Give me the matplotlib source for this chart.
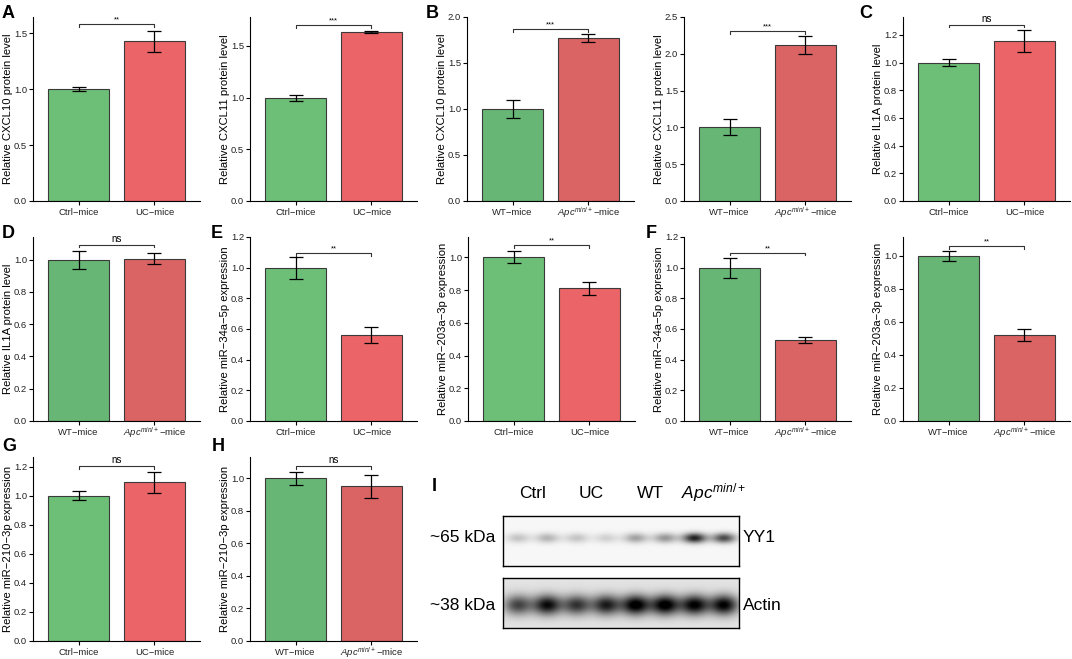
import numpy as np
import matplotlib.pyplot as plt
from matplotlib.ticker import FormatStrFormatter

plt.rcParams["font.family"] = ["Liberation Sans", "DejaVu Sans"]
plt.rcParams["mathtext.fontset"] = "custom"
plt.rcParams["mathtext.rm"] = "Liberation Sans"
plt.rcParams["mathtext.it"] = "Liberation Sans:italic"

# ---- data ----
ctrl_uc = ["Ctrl\u2212mice", "UC\u2212mice"]
wt_apc = ["WT\u2212mice", r"$\mathit{Apc}^{\mathit{min/+}}$" + "\u2212mice"]

cxcl10_uc = [1.00, 1.425]
cxcl10_uc_err = [0.016, 0.095]
cxcl11_uc = [1.00, 1.633]
cxcl11_uc_err = [0.028, 0.010]
cxcl10_apc = [1.00, 1.772]
cxcl10_apc_err = [0.100, 0.047]
cxcl11_apc = [1.00, 2.120]
cxcl11_apc_err = [0.110, 0.125]
il1a_uc = [1.00, 1.154]
il1a_uc_err = [0.026, 0.080]
il1a_apc = [1.00, 1.004]
il1a_apc_err = [0.056, 0.034]
mir34a_uc = [1.00, 0.559]
mir34a_uc_err = [0.072, 0.052]
mir203a_uc = [1.00, 0.811]
mir203a_uc_err = [0.037, 0.040]
mir34a_apc = [1.00, 0.526]
mir34a_apc_err = [0.065, 0.020]
mir203a_apc = [1.00, 0.521]
mir203a_apc_err = [0.032, 0.034]
mir210_uc = [1.00, 1.093]
mir210_uc_err = [0.032, 0.074]
mir210_apc = [1.00, 0.949]
mir210_apc_err = [0.040, 0.073]

# western blot band intensities (two sub-lanes per group)
blot_groups = ["Ctrl", "UC", "WT", r"$\mathit{Apc}^{\mathit{min/+}}$"]
yy1_bands = [[0.20, 0.26], [0.20, 0.15], [0.34, 0.38], [0.85, 0.68]]
actin_bands = [[0.62, 0.85], [0.68, 0.78], [0.95, 0.95], [0.90, 0.90]]

uc_cols = ["#6dbe77", "#eb6568"]
apc_cols = ["#68b675", "#da6464"]

W, H = 1072, 659
fig = plt.figure(figsize=(W / 100, H / 100), dpi=100)


def px_axes(left, top, width=167, height=184):
    return fig.add_axes([left / W, (H - top - height) / H, width / W, height / H])


def bar_panel(ax, labels, vals, errs, cols, ymax, ystep, ylabel, sig, yb):
    x = np.arange(len(vals))
    ax.bar(x, vals, width=0.8, color=cols, edgecolor="#3a3a3a", linewidth=0.8, zorder=2)
    ax.errorbar(x, vals, yerr=errs, fmt="none", ecolor="black", elinewidth=0.9,
                capsize=5, capthick=0.9, zorder=3)
    ax.set_xlim(-0.6, 1.6)
    ax.set_ylim(0, ymax)
    ax.set_yticks(np.arange(0, ymax + 1e-6, ystep))
    ax.yaxis.set_major_formatter(FormatStrFormatter("%.1f"))
    ax.set_xticks(x, labels)
    for s in ["top", "right"]:
        ax.spines[s].set_visible(False)
    for s in ["left", "bottom"]:
        ax.spines[s].set_linewidth(0.8)
    ax.tick_params(direction="out", length=3, width=0.8, labelsize=6.8,
                   labelcolor="#222222")
    ax.tick_params(axis="y", pad=1.2)
    ax.tick_params(axis="x", pad=7.4)
    for lab in ax.get_xticklabels():
        lab.set_verticalalignment("baseline")
    ax.set_ylabel(ylabel, fontsize=8.1)
    ax.yaxis.set_label_coords(-20 / 167, 0.5)
    tick = ymax * 0.015
    ax.plot([0, 0, 1, 1], [yb - tick, yb, yb, yb - tick], color="#333333", lw=0.8)
    if "*" in sig:
        ax.text(0.5, yb + ymax * 0.004, sig, ha="center", va="bottom", fontsize=5.5)
    else:
        ax.text(0.5, yb + ymax * 0.004, sig, ha="center", va="bottom", fontsize=7)


def letter(x, y, s):
    fig.text(x / W, 1 - y / H, s, fontsize=13, fontweight="bold", va="top", ha="left")


# row 1
bar_panel(px_axes(33, 17), ctrl_uc, cxcl10_uc, cxcl10_uc_err, uc_cols, 1.643, 0.5,
          "Relative CXCL10 protein level", "**", 1.58)
bar_panel(px_axes(250, 17), ctrl_uc, cxcl11_uc, cxcl11_uc_err, uc_cols, 1.78, 0.5,
          "Relative CXCL11 protein level", "***", 1.70)
bar_panel(px_axes(467, 17), wt_apc, cxcl10_apc, cxcl10_apc_err, apc_cols, 2.0, 0.5,
          "Relative CXCL10 protein level", "***", 1.87)
bar_panel(px_axes(684, 17), wt_apc, cxcl11_apc, cxcl11_apc_err, apc_cols, 2.5, 0.5,
          "Relative CXCL11 protein level", "***", 2.31)
bar_panel(px_axes(903, 17), ctrl_uc, il1a_uc, il1a_uc_err, uc_cols, 1.33, 0.2,
          "Relative IL1A protein level", "ns", 1.275)

# row 2
bar_panel(px_axes(33, 237), wt_apc, il1a_apc, il1a_apc_err, apc_cols, 1.14, 0.2,
          "Relative IL1A protein level", "ns", 1.093)
bar_panel(px_axes(250, 237), ctrl_uc, mir34a_uc, mir34a_uc_err, uc_cols, 1.2, 0.2,
          "Relative miR\u221234a\u22125p expression", "**", 1.097)
bar_panel(px_axes(468, 237), ctrl_uc, mir203a_uc, mir203a_uc_err, uc_cols, 1.124, 0.2,
          "Relative miR\u2212203a\u22123p expression", "**", 1.075)
bar_panel(px_axes(684, 237), wt_apc, mir34a_apc, mir34a_apc_err, apc_cols, 1.2, 0.2,
          "Relative miR\u221234a\u22125p expression", "**", 1.098)
bar_panel(px_axes(903, 237), wt_apc, mir203a_apc, mir203a_apc_err, apc_cols, 1.115, 0.2,
          "Relative miR\u2212203a\u22123p expression", "**", 1.062)

# row 3
bar_panel(px_axes(33, 457), ctrl_uc, mir210_uc, mir210_uc_err, uc_cols, 1.267, 0.2,
          "Relative miR\u2212210\u22123p expression", "ns", 1.205)
bar_panel(px_axes(250, 457), wt_apc, mir210_apc, mir210_apc_err, apc_cols, 1.13, 0.2,
          "Relative miR\u2212210\u22123p expression", "ns", 1.075)

for lx, ly, s in [(2, 5, "A"), (426, 5, "B"), (859, 5, "C"), (2, 225, "D"),
                  (211, 225, "E"), (646, 225, "F"), (2, 438, "G"), (212, 438, "H"),
                  (432, 478, "I")]:
    letter(lx, ly, s)


# western blot
def blot(top, bands, bg, cy, sy, sx):
    ax = px_axes(503, top, 236, 50)
    xs = np.linspace(0, 1, 472)
    ys = np.linspace(0, 1, 100)
    X, Y = np.meshgrid(xs, ys)
    img = np.full(X.shape, bg)
    k = 0
    for pair in bands:
        for a in pair:
            cx = (k + 0.5) / 8
            img += a * np.exp(-((X - cx) / sx) ** 2 - ((Y - cy) / sy) ** 2)
            k += 1
    ax.imshow(np.clip(img, 0, 1), cmap="gray_r", vmin=0, vmax=1.0,
              extent=[0, 1, 1, 0], aspect="auto", interpolation="bilinear")
    ax.set_xticks([])
    ax.set_yticks([])
    for s in ax.spines.values():
        s.set_linewidth(1.0)
        s.set_color("black")
    return ax


blot(516, yy1_bands, 0.03, 0.44, 0.10, 0.05)
blot(578, actin_bands, 0.11, 0.54, 0.20, 0.06)

for i, g in enumerate(blot_groups):
    cx = 503 + 236 * (2 * i + 1) / 8
    if i == 3:
        cx += 4
    fig.text(cx / W, 1 - 493 / H, g, fontsize=12.5, ha="center", va="center")

fig.text(430 / W, 1 - 538 / H, "~65 kDa", fontsize=12.5, ha="left", va="center")
fig.text(430 / W, 1 - 605 / H, "~38 kDa", fontsize=12.5, ha="left", va="center")
fig.text(743 / W, 1 - 538 / H, "YY1", fontsize=12.5, ha="left", va="center")
fig.text(743 / W, 1 - 605 / H, "Actin", fontsize=12.5, ha="left", va="center")

fig.savefig("out.png", dpi=100)
